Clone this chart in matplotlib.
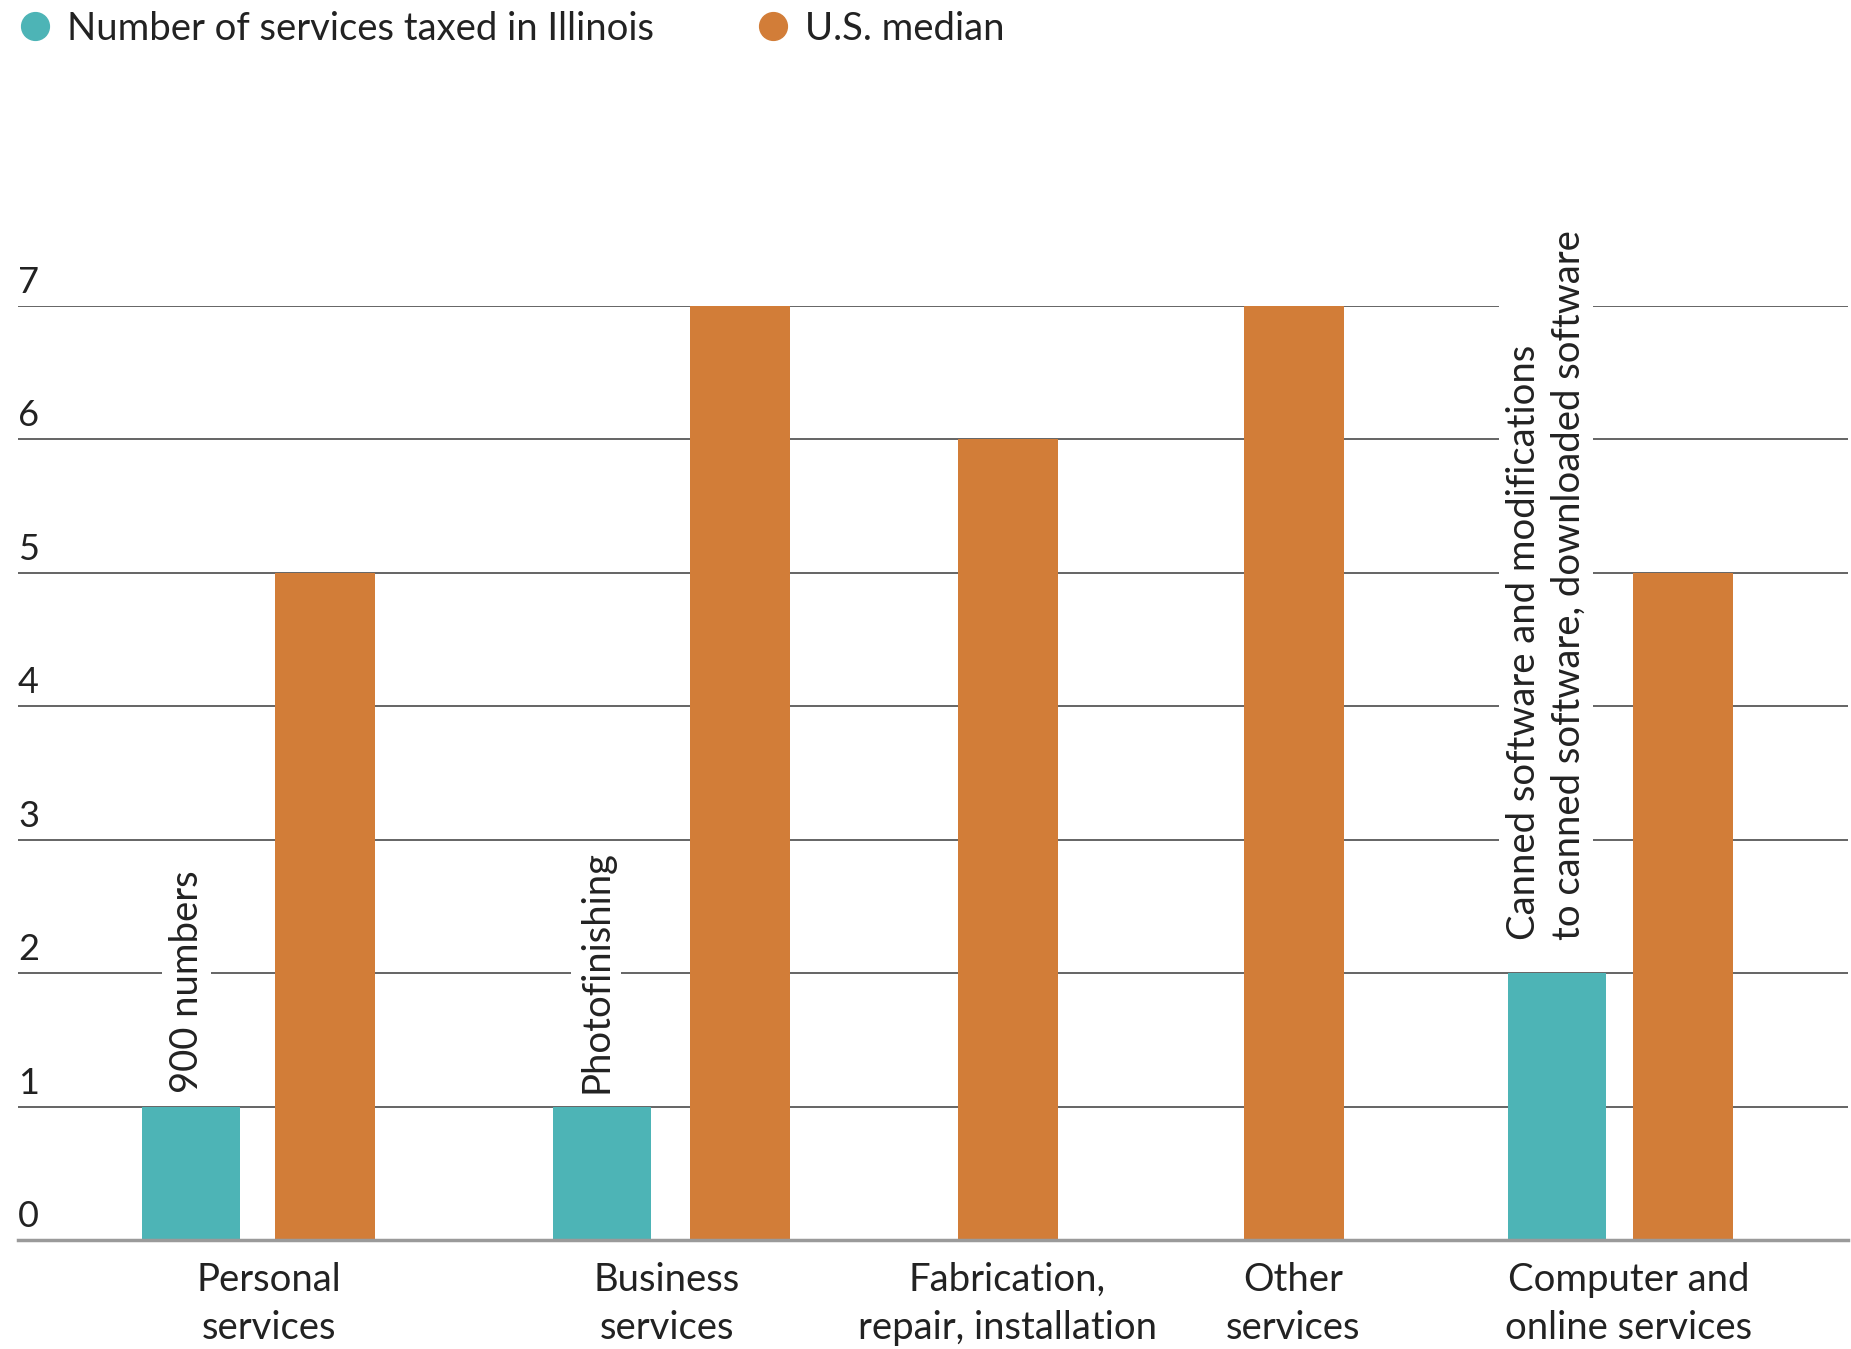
import matplotlib.pyplot as plt
from matplotlib.lines import Line2D

plt.rcParams['font.family'] = ['Lato', 'DejaVu Sans']

# data
categories = ['Personal\nservices', 'Business\nservices', 'Fabrication,\nrepair, installation',
              'Other\nservices', 'Computer and\nonline services']
illinois = [1, 1, 0, 0, 2]
us_median = [5, 7, 6, 7, 5]
illinois_notes = ['900 numbers', 'Photofinishing', '', '',
                  'Canned software and modifications\nto canned software, downloaded software']
yticks = [0, 1, 2, 3, 4, 5, 6, 7]

# layout (x in pixel-like units across the plot)
il_x = [190.6, 601.5, None, None, 1556.5]
us_x = [324.6, 739.6, 1007.6, 1293.8, 1682.8]
cat_x = [269, 667, 1007, 1293, 1629]
note_x = [186.5, 596, None, None, 1546]
note_dy = [0.1, 0.1, 0, 0, 0.25]
teal = '#4db4b6'
orange = '#d27d38'
txt = '#222222'
fs = 27.5

fig = plt.figure(figsize=(18.51, 13.49), dpi=100)
ax = fig.add_axes([18 / 1851, 1 - 1240 / 1349, 1830 / 1851, 934 / 1349])

for x, v in zip(il_x, illinois):
    if x is not None and v > 0:
        ax.bar(x, v, width=98, color=teal, zorder=3)
ax.bar(us_x, us_median, width=100, color=orange, zorder=3)

for x, v, dy, note in zip(note_x, illinois, note_dy, illinois_notes):
    if note:
        ax.text(x, v + dy, note, rotation=90, ha='center', va='bottom', fontsize=fs,
                color=txt, linespacing=1.3, multialignment='left', zorder=4,
                bbox=dict(facecolor='white', edgecolor='none', pad=5))

ax.set_xlim(18, 1848)
ax.set_ylim(0, 7)
ax.set_yticks(yticks)
ax.set_yticklabels([])
ax.tick_params(axis='y', length=0)
for t in yticks:
    ax.annotate(str(t), xy=(0, t), xycoords=('axes fraction', 'data'), xytext=(0, 5),
                textcoords='offset points', ha='left', va='bottom', fontsize=26, color=txt)
ax.yaxis.grid(True, color='#4a4a4a', lw=1.2, zorder=1)
ax.set_axisbelow(True)

ax.set_xticks(cat_x)
ax.set_xticklabels(categories, fontsize=fs, color=txt, linespacing=1.42)
ax.tick_params(axis='x', length=0, pad=16)

for s in ['top', 'right', 'left']:
    ax.spines[s].set_visible(False)
ax.spines['bottom'].set_color('#9a9a9a')
ax.spines['bottom'].set_linewidth(2.5)
ax.spines['bottom'].set_zorder(5)

handles = [Line2D([], [], ls='none', marker='o', ms=20, color=teal),
           Line2D([], [], ls='none', marker='o', ms=20, color=orange)]
fig.legend(handles, ['Number of services taxed in Illinois', 'U.S. median'],
           loc='upper left', bbox_to_anchor=(0.0086, 0.992), ncol=2, frameon=False,
           fontsize=fs, handlelength=1.0, handletextpad=0.35, columnspacing=2.6,
           borderaxespad=0, borderpad=0, labelcolor=txt)

fig.savefig('out.png', dpi=100, facecolor='white')
